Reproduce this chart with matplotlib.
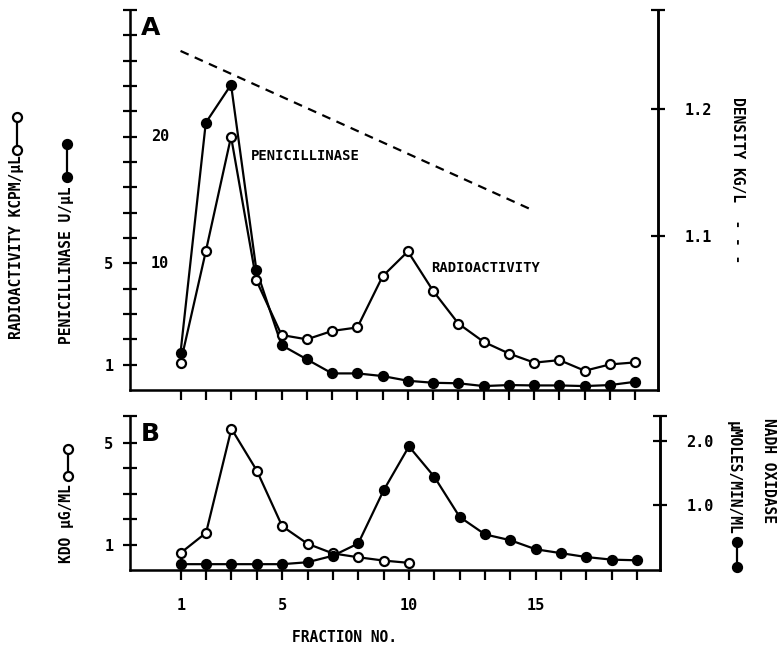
import matplotlib
matplotlib.use('Agg')
import matplotlib.pyplot as plt
from matplotlib.lines import Line2D

# Text style
plt.rcParams['font.family'] = ['DejaVu Sans Mono', 'DejaVu Sans']
plt.rcParams['font.weight'] = 'bold'
plt.rcParams['font.size'] = 10.5
plt.rcParams['text.color'] = 'black'

# Data
fractions = list(range(1, 20))
# panel A: radioactivity (kcpm/ul) and penicillinase (U/ul)
radioactivity = [1.07, 5.47, 10.0, 4.33, 2.17, 2.0, 2.33, 2.47, 4.49, 5.47,
                 3.91, 2.62, 1.90, 1.44, 1.08, 1.18, 0.76, 1.01, 1.09]
penicillinase = [2.94, 21.1, 24.1, 9.5, 3.54, 2.42, 1.31, 1.31, 1.10, 0.73,
                 0.57, 0.53, 0.31, 0.39, 0.36, 0.36, 0.31, 0.39, 0.65]
density_frac = [1, 15]
density = [1.245, 1.12]
# panel B: KDO (ug/ml) and NADH oxidase (umoles/min/ml)
kdo_frac = list(range(1, 11))
kdo = [0.67, 1.46, 5.54, 3.90, 1.72, 1.03, 0.65, 0.50, 0.37, 0.28]
nadh = [0.09, 0.09, 0.09, 0.09, 0.09, 0.12, 0.22, 0.41, 1.23, 1.91,
        1.44, 0.82, 0.55, 0.46, 0.32, 0.26, 0.20, 0.16, 0.15]

W, H = 778, 650
def fx(x):
    return x / W
def fy(y):
    return 1 - y / H

fig = plt.figure(figsize=(7.78, 6.5), dpi=100)
fig.patch.set_facecolor('white')

axA = fig.add_axes([fx(130), fy(390), (658 - 130) / W, (390 - 10) / H])
axB = fig.add_axes([fx(130), fy(570), (660 - 130) / W, (570 - 416) / H])

line_kw = dict(color='black', lw=1.6, markersize=6.5, markeredgewidth=1.6)

def style(ax):
    for s in ['left', 'bottom', 'right']:
        ax.spines[s].set_linewidth(1.8)
    ax.spines['top'].set_visible(False)
    ax.set_xlim(-1.0, 19.9)
    ax.set_xticks(fractions)
    ax.tick_params(axis='x', direction='out', length=7.2, width=1.6, pad=13,
                   labelsize=11)
    ax.tick_params(axis='y', direction='inout', length=10, width=1.6, pad=7,
                   labelsize=11)

# ---- panel A ----
style(axA)
axA.set_ylim(0, 15)
axA.set_yticks(range(1, 16))
axA.set_yticklabels(['1' if v == 1 else '5' if v == 5 else '' for v in range(1, 16)])
axA.set_xticklabels([])
axA.plot(fractions, radioactivity, marker='o', markerfacecolor='white', zorder=3, **line_kw)
axA.plot(fractions, [p / 2 for p in penicillinase], marker='o', markerfacecolor='black',
         zorder=2, **line_kw)
# penicillinase scale labels inside the axis
for p in [10, 20]:
    axA.text(0.04, p / 2, str(p), transform=axA.get_yaxis_transform(),
             ha='left', va='center', fontsize=11)
axA.text(3.8, 9.25, 'PENICILLINASE', ha='left', va='center', fontsize=10)
axA.text(10.9, 4.8, 'RADIOACTIVITY', ha='left', va='center', fontsize=10)
axA.text(0.02, 0.985, 'A', transform=axA.transAxes, ha='left', va='top',
         fontsize=18, family='DejaVu Sans', fontweight='bold')

axA2 = axA.twinx()
axA2.spines['top'].set_visible(False)
axA2.spines['right'].set_linewidth(1.8)
axA2.set_ylim(0.980, 1.277)
axA2.set_yticks([1.1, 1.2, 1.277])
axA2.set_yticklabels(['1.1', '1.2', ''])
axA2.tick_params(axis='y', direction='inout', length=10, width=1.6, pad=14, labelsize=11)
axA2.plot(density_frac, density, color='black', lw=1.6, ls=(0, (4, 3)))

# ---- panel B ----
style(axB)
axB.set_ylim(0, 6.04)
axB.set_yticks([1, 2, 3, 4, 5, 6.04])
axB.set_yticklabels(['1', '', '', '', '5', ''])
axB.set_xticklabels(['1' if f == 1 else str(f) if f % 5 == 0 else '' for f in fractions])
axB.plot(kdo_frac, kdo, marker='o', markerfacecolor='white', zorder=3, **line_kw)
axB.text(0.02, 0.96, 'B', transform=axB.transAxes, ha='left', va='top',
         fontsize=18, family='DejaVu Sans', fontweight='bold')

axB2 = axB.twinx()
axB2.spines['top'].set_visible(False)
axB2.spines['right'].set_linewidth(1.8)
axB2.set_ylim(0, 2.38)
axB2.set_yticks([1.0, 2.0, 2.38])
axB2.set_yticklabels(['1.0', '2.0', ''])
axB2.tick_params(axis='y', direction='inout', length=10, width=1.6, pad=14, labelsize=11)
axB2.plot(fractions, nadh, marker='o', markerfacecolor='black', zorder=2, **line_kw)

# ---- axis titles ----
fig.text(fx(17), fy(247), 'RADIOACTIVITY KCPM/\u00b5L', rotation=90, ha='center', va='center')
fig.text(fx(67), fy(265), 'PENICILLINASE U/\u00b5L', rotation=90, ha='center', va='center')
fig.text(fx(737), fy(180), 'DENSITY KG/L  - - -', rotation=-90, ha='center', va='center')
fig.text(fx(67), fy(524), 'KDO \u00b5G/ML', rotation=90, ha='center', va='center')
fig.text(fx(769), fy(470), 'NADH OXIDASE', rotation=-90, ha='center', va='center')
fig.text(fx(733), fy(478), '\u00b5MOLES/MIN/ML', rotation=-90, ha='center', va='center')
fig.text(fx(345), fy(637), 'FRACTION NO.', ha='center', va='center')

# key symbols next to the axis titles
def key(x, y1, y2, face):
    fig.add_artist(Line2D([fx(x), fx(x)], [fy(y1), fy(y2)], transform=fig.transFigure,
                          marker='o', markerfacecolor=face, **line_kw))

key(17, 117, 150, 'white')
key(67, 144, 177, 'black')
key(68, 449, 476, 'white')
key(737, 542, 567, 'black')

fig.savefig('out.png', dpi=100)
